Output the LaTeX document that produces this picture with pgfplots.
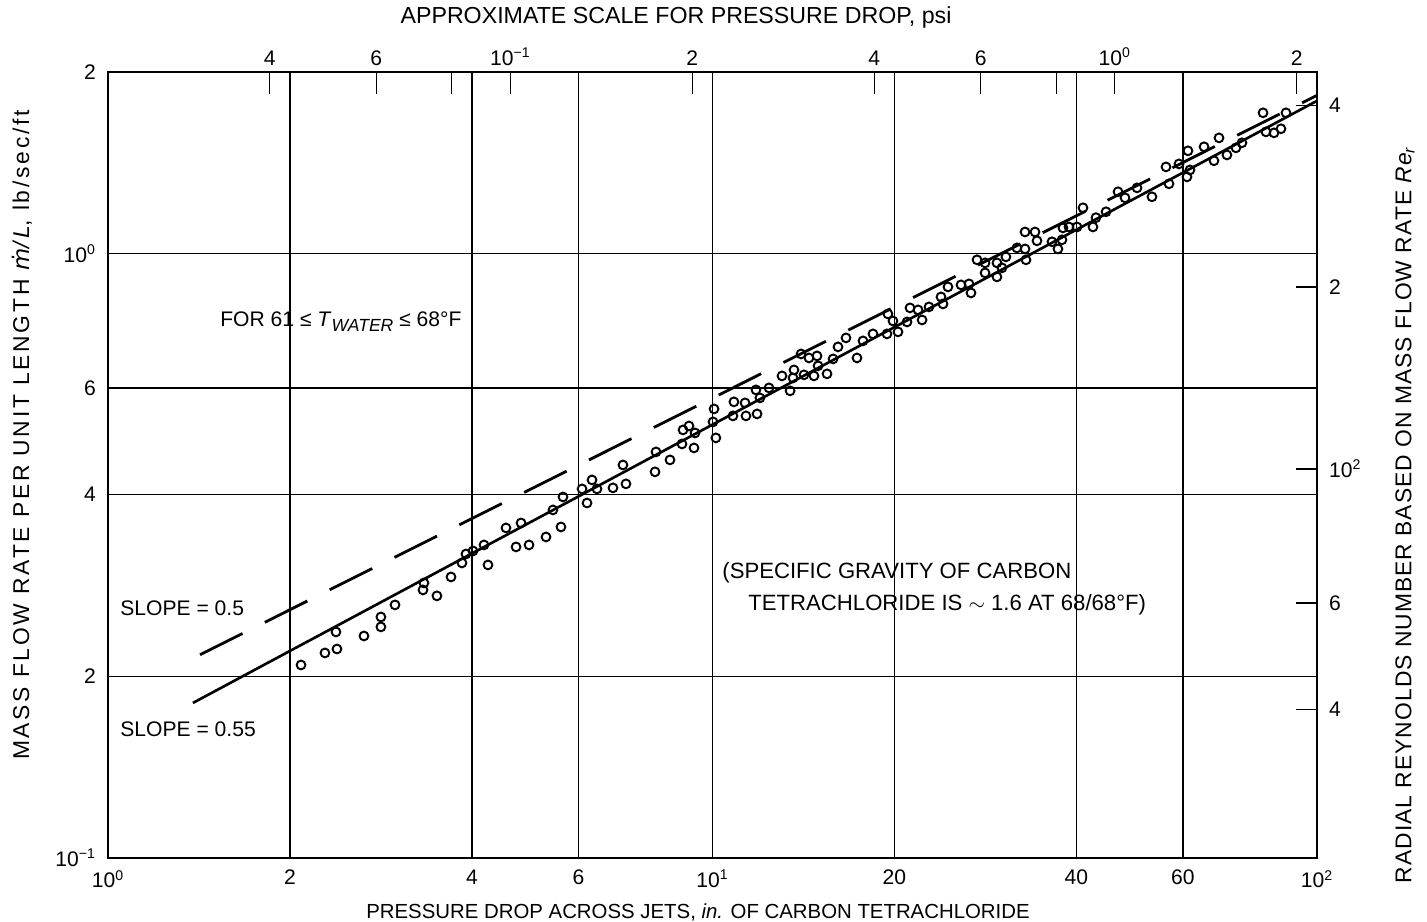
\documentclass[border=0pt]{standalone}
\usepackage{fontspec}
\setmainfont{Liberation Sans}
\newfontfamily\dejavu{DejaVu Sans}
\usepackage{pgfplots}
\usepackage{pgfplotstable}
\pgfplotsset{compat=1.18}

\pgfplotstableread{
x y
2.086 0.2087
2.285 0.2185
2.392 0.2218
2.383 0.2367
2.651 0.2331
2.828 0.2413
2.828 0.2506
2.984 0.2624
3.320 0.2778
3.332 0.2853
3.501 0.2716
3.694 0.2919
3.851 0.3079
3.910 0.3186
4.016 0.3223
4.188 0.3298
4.252 0.3056
4.554 0.3519
4.823 0.3586
4.732 0.3273
4.972 0.3298
5.304 0.3400
5.446 0.3769
5.615 0.3532
5.658 0.3960
6.084 0.4083
6.201 0.3870
6.320 0.4225
6.441 0.4083
6.845 0.4099
7.110 0.4473
7.193 0.4162
8.034 0.4357
8.064 0.4701
8.505 0.4560
8.903 0.4846
8.939 0.5112
9.144 0.5190
9.356 0.5053
9.320 0.4773
10.02 0.5271
10.06 0.5538
10.13 0.4959
10.81 0.5393
10.85 0.5689
11.32 0.5667
11.36 0.5393
11.85 0.5434
11.80 0.5955
11.98 0.5776
12.40 0.6000
13.03 0.6281
13.44 0.5933
13.59 0.6233
13.64 0.6426
14.01 0.6829
14.17 0.6306
14.44 0.6726
14.72 0.6281
14.89 0.6778
14.95 0.6527
15.47 0.6330
15.83 0.6701
16.13 0.7015
16.63 0.7260
17.34 0.6726
17.74 0.7178
18.43 0.7372
19.44 0.7372
19.51 0.7955
19.89 0.7745
20.27 0.7429
20.98 0.7716
21.22 0.8139
21.88 0.8077
22.22 0.7774
22.81 0.8170
23.88 0.8487
24.06 0.8264
24.52 0.8817
25.77 0.8885
26.57 0.8919
26.77 0.8617
27.39 0.9775
28.24 0.9663
28.24 0.9301
29.55 0.9663
29.55 0.9160
30.12 0.9480
30.58 0.9886
31.89 1.023
32.89 1.019
33.01 0.9775
32.89 1.087
34.16 1.087
34.42 1.051
36.44 1.047
37.28 1.019
37.86 1.055
38.00 1.104
38.88 1.108
40.09 1.108
41.01 1.192
42.60 1.108
43.09 1.148
44.77 1.174
46.86 1.267
48.13 1.238
50.38 1.286
53.33 1.243
56.26 1.393
56.91 1.306
59.11 1.409
61.17 1.481
61.64 1.377
60.94 1.341
65.04 1.504
67.55 1.426
68.85 1.556
70.97 1.458
73.45 1.498
75.15 1.527
81.42 1.712
82.34 1.592
84.90 1.586
87.18 1.611
88.86 1.712
}\datatable

\begin{document}
\begin{tikzpicture}
\def\fs{\fontsize{12}{14}\selectfont}
\def\fa{\fontsize{12.6}{15}\selectfont}
\begin{axis}[
  at={(0,0)}, anchor=south west,
  scale only axis, width=24.18cm, height=15.72cm,
  xmode=log, ymode=log, xmin=1, xmax=100, ymin=0.1, ymax=2,
  axis line style={line width=1.1pt},
  tick pos=left,
  xtick={1,2,4,6,10,20,40,60,100},
  xticklabels={10\textsuperscript{0},2,4,6,10\textsuperscript{1},20,40,60,10\textsuperscript{2}},
  ytick={0.1,0.2,0.4,0.6,1,2},
  yticklabels={10\textsuperscript{−1},2,4,6,10\textsuperscript{0},2},
  major tick length=0pt, minor tick length=0pt,
  grid=major, major grid style={black, line width=0.7pt},
  minor grid style={draw=none},
  ticklabel style={font=\fs},
  xticklabel style={yshift=-0.12cm},
  yticklabel style={xshift=-0.12cm},
  clip=false,
]
\addplot[only marks, mark=o, mark size=2.5pt, mark options={line width=1.1pt, fill=white}] table {\datatable};
\addplot[line width=1.5pt] coordinates {(1.382,0.1806) (100,1.792)};
\addplot[line width=1.6pt, dash pattern=on 0.95cm off 0.5cm] coordinates {(1.42,0.217) (100,1.83)};
\node[anchor=west, inner sep=0pt, font=\fs] at (axis cs:1.532,0.7716) {FOR 61 ≤ \textit{T}\raisebox{-0.45ex}{\fontsize{10}{10}\selectfont\itshape WATER} ≤ 68°F};
\node[anchor=west, inner sep=0pt, font=\fs] at (axis cs:1.047,0.2594) {SLOPE = 0.5};
\node[anchor=west, inner sep=0pt, font=\fs] at (axis cs:1.047,0.1635) {SLOPE = 0.55};
\node[anchor=west, inner sep=0pt, font=\fa] at (axis cs:10.37,0.2964) {(SPECIFIC GRAVITY OF CARBON};
\node[anchor=west, inner sep=0pt, font=\fa] at (axis cs:11.45,0.2624) {TETRACHLORIDE IS $\sim$ 1.6 AT 68/68°F)};
\end{axis}
% top axis: approximate scale in psi
\begin{axis}[
  at={(0,0)}, anchor=south west,
  scale only axis, width=24.18cm, height=15.72cm,
  xmode=log, xmin=0.0216, xmax=2.16, ymin=0, ymax=1,
  axis line style={draw=none},
  xtick pos=right, xticklabel pos=right, ytick=\empty,
  xtick={0.04,0.06,0.08,0.1,0.2,0.4,0.6,0.8,1,2},
  xticklabels={4,6,,10\textsuperscript{−1},2,4,6,,10\textsuperscript{0},2},
  tick align=inside, major tick length=0.44cm, minor tick length=0pt,
  major tick style={black, line width=0.75pt},
  ticklabel style={font=\fs},
]
\addplot[draw=none] coordinates {(0.1,0.5)};
\end{axis}
% right axis: Reynolds number
\begin{axis}[
  at={(0,0)}, anchor=south west,
  scale only axis, width=24.18cm, height=15.72cm,
  ymode=log, ymin=22.7, ymax=454, xmin=0, xmax=1,
  axis line style={draw=none},
  ytick pos=right, yticklabel pos=right, xtick=\empty,
  ytick={40,60,100,200,400},
  yticklabels={4,6,10\textsuperscript{2},2,4},
  tick align=inside, major tick length=0.42cm, minor tick length=0pt,
  major tick style={black, line width=0.75pt},
  ticklabel style={font=\fs},
  yticklabel style={xshift=0.12cm},
]
\addplot[draw=none] coordinates {(0.5,100)};
\end{axis}
\node[font=\fontsize{13.2}{15}\selectfont] at (11.36,16.8) {APPROXIMATE SCALE FOR PRESSURE DROP, psi};
\node[font=\fontsize{11.6}{14}\selectfont] at (11.8,-1.08) {PRESSURE DROP ACROSS JETS, \textit{in.} OF CARBON TETRACHLORIDE};
\node[rotate=90, font=\fontsize{13}{16}\selectfont\addfontfeature{LetterSpace=12}] at (-1.72,8.46) {MASS FLOW RATE PER UNIT LENGTH {\dejavu\itshape ṁ}\textit{/L}, lb/sec/ft};
\node[rotate=90, font=\fontsize{13}{16}\selectfont\addfontfeature{LetterSpace=4.5}] at (25.94,6.86) {RADIAL REYNOLDS NUMBER BASED ON MASS FLOW RATE \textit{Re\textsubscript{r}}};
\pgfresetboundingbox
\path (-2.16,-1.28) rectangle (26.38,17.16);
\end{tikzpicture}
\end{document}
